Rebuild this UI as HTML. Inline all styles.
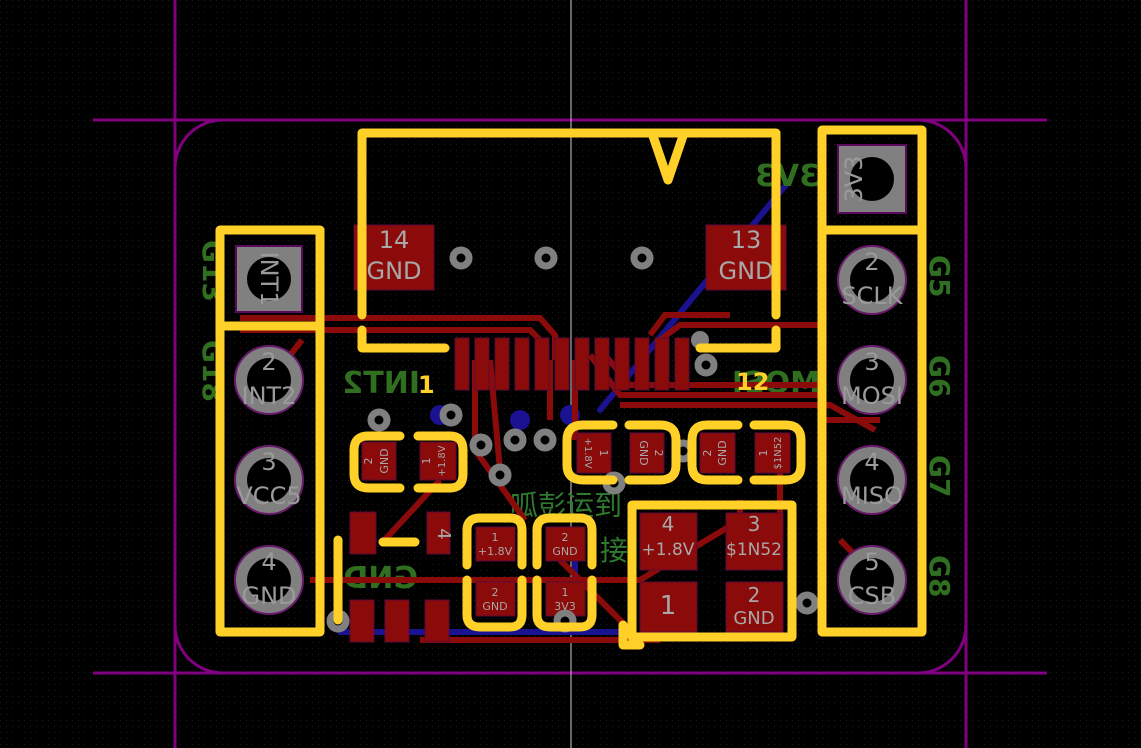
<!DOCTYPE html>
<html><head><style>
html,body{margin:0;padding:0;background:#000;}
svg{display:block;}
text{font-family:"DejaVu Sans","Liberation Sans",sans-serif;}
</style></head><body>
<svg width="1141" height="748" viewBox="0 0 1141 748" xmlns="http://www.w3.org/2000/svg">
<defs>
<pattern id="g" width="6" height="6" patternUnits="userSpaceOnUse"><rect x="0" y="0" width="1" height="1" fill="#1c1c1c"/></pattern>
</defs>
<rect width="1141" height="748" fill="#000"/>
<rect width="1141" height="748" fill="url(#g)"/>
<!-- dimension lines -->
<g stroke="#800080" stroke-width="3" fill="none">
<line x1="93" y1="120" x2="1047" y2="120"/>
<line x1="93" y1="673" x2="1047" y2="673"/>
<line x1="175" y1="0" x2="175" y2="748"/>
<line x1="966" y1="0" x2="966" y2="748"/>
<rect x="175" y="120" width="791" height="553" rx="48"/>
</g>
<line x1="571" y1="0" x2="571" y2="748" stroke="#ccc" stroke-width="1"/>

<!-- blue traces -->
<g stroke="#1a1290" stroke-width="6" fill="none" stroke-linecap="round">
<line x1="790" y1="180" x2="600" y2="410"/>
<line x1="340" y1="632" x2="630" y2="632"/>
<line x1="575" y1="530" x2="575" y2="600"/>
</g>
<g fill="#1a1290"><circle cx="440" cy="415" r="10"/><circle cx="520" cy="420" r="10"/><circle cx="570" cy="415" r="10"/></g>

<!-- silkscreen green (mirrored-ish) -->
<g fill="#2f6f1f" font-weight="bold" font-family="'DejaVu Sans',sans-serif">
<text x="0" y="0" font-size="30" transform="translate(820,186) scale(-1,1)">3V3</text>
<text x="0" y="0" font-size="30" transform="translate(420,393) scale(-1,1)">INT2</text>
<text x="0" y="0" font-size="30" transform="translate(820,393) scale(-1,1)">MOSI</text>
<text x="0" y="0" font-size="30" transform="translate(418,588) scale(-1,1)">GND</text>
<text x="0" y="0" font-size="28" transform="translate(203,240) rotate(90)">G13</text>
<text x="0" y="0" font-size="28" transform="translate(203,340) rotate(90)">G18</text>
<text x="0" y="0" font-size="28" transform="translate(930,255) rotate(90)">G5</text>
<text x="0" y="0" font-size="28" transform="translate(930,355) rotate(90)">G6</text>
<text x="0" y="0" font-size="28" transform="translate(930,455) rotate(90)">G7</text>
<text x="0" y="0" font-size="28" transform="translate(930,555) rotate(90)">G8</text>
</g>
<g fill="#2f7a2f" font-size="28" font-family="'Noto Sans CJK SC',sans-serif"><text x="510" y="515">呱彭运到</text><text x="600" y="560">接</text></g>

<!-- red traces -->
<g stroke="#8b0a0a" stroke-width="6" fill="none">
<polyline points="240,318 540,318 555,335 555,360"/>
<polyline points="240,330 530,330 540,340"/>
<polyline points="302,340 270,380"/>
<polyline points="590,355 620,395 820,395"/>
<polyline points="605,355 630,385 820,385"/>
<polyline points="650,335 665,315 730,315"/>
<polyline points="660,340 680,325 820,325"/>
<polyline points="620,405 830,405 875,430"/>
<polyline points="475,360 475,450 525,520"/>
<polyline points="490,360 500,470"/>
<polyline points="550,360 550,420"/>
<polyline points="575,360 575,410 575,440"/>
<polyline points="310,580 640,580 740,520"/>
<polyline points="380,545 440,480"/>
<polyline points="560,560 640,640 650,640"/>
<polyline points="740,500 740,560"/>
<polyline points="780,440 780,520"/>
<polyline points="880,420 820,420"/>
<polyline points="840,540 880,580"/>
<polyline points="420,640 660,640"/>
</g>

<!-- fine pitch pads -->
<g fill="#8b0a0a" stroke="#5a0a3a" stroke-width="1">
<rect x="455" y="338" width="14" height="52"/><rect x="475" y="338" width="14" height="52"/><rect x="495" y="338" width="14" height="52"/><rect x="515" y="338" width="14" height="52"/><rect x="535" y="338" width="14" height="52"/><rect x="555" y="338" width="14" height="52"/><rect x="575" y="338" width="14" height="52"/><rect x="595" y="338" width="14" height="52"/><rect x="615" y="338" width="14" height="52"/><rect x="635" y="338" width="14" height="52"/><rect x="655" y="338" width="14" height="52"/><rect x="675" y="338" width="14" height="52"/>
<rect x="354" y="225" width="80" height="65"/><rect x="706" y="225" width="80" height="65"/>
<rect x="362" y="442" width="34" height="38"/><rect x="420" y="442" width="36" height="38"/>
<rect x="577" y="433" width="34" height="40"/><rect x="630" y="433" width="34" height="40"/>
<rect x="700" y="433" width="35" height="40"/><rect x="755" y="433" width="35" height="40"/>
<rect x="476" y="527" width="39" height="34"/><rect x="476" y="582" width="39" height="34"/>
<rect x="546" y="527" width="39" height="34"/><rect x="546" y="582" width="39" height="34"/>
<rect x="640" y="513" width="57" height="57"/><rect x="726" y="513" width="57" height="57"/>
<rect x="640" y="582" width="57" height="50"/><rect x="726" y="582" width="57" height="50"/>
<rect x="350" y="512" width="26" height="42"/><rect x="427" y="512" width="23" height="42"/>
<rect x="350" y="600" width="24" height="42"/><rect x="385" y="600" width="24" height="42"/><rect x="425" y="600" width="24" height="42"/>
</g>
<g fill="#a8a8a8" font-family="'DejaVu Sans',sans-serif" text-anchor="middle">
<text x="394" y="248" font-size="24">14</text><text x="394" y="279" font-size="24">GND</text>
<text x="746" y="248" font-size="24">13</text><text x="746" y="279" font-size="24">GND</text>
<text x="668" y="531" font-size="20">4</text><text x="668" y="555" font-size="17">+1.8V</text>
<text x="754" y="531" font-size="20">3</text><text x="754" y="555" font-size="17">$1N52</text>
<text x="668" y="614" font-size="26">1</text>
<text x="754" y="602" font-size="20">2</text><text x="754" y="624" font-size="18">GND</text>
<text x="495" y="541" font-size="11">1</text><text x="495" y="555" font-size="11">+1.8V</text>
<text x="495" y="596" font-size="11">2</text><text x="495" y="610" font-size="11">GND</text>
<text x="565" y="541" font-size="11">2</text><text x="565" y="555" font-size="11">GND</text>
<text x="565" y="596" font-size="11">1</text><text x="565" y="610" font-size="11">3V3</text>
<text x="0" y="0" font-size="18" transform="translate(438,534) rotate(90)">4</text>
<text x="0" y="0" font-size="11" transform="translate(372,461) rotate(-90)">2</text>
<text x="0" y="0" font-size="11" transform="translate(388,461) rotate(-90)">GND</text>
<text x="0" y="0" font-size="11" transform="translate(430,461) rotate(-90)">1</text>
<text x="0" y="0" font-size="10" transform="translate(445,461) rotate(-90)">+1.8V</text>
<text x="0" y="0" font-size="11" transform="translate(600,453) rotate(90)">1</text>
<text x="0" y="0" font-size="10" transform="translate(585,453) rotate(90)">+1.8V</text>
<text x="0" y="0" font-size="11" transform="translate(655,453) rotate(90)">2</text>
<text x="0" y="0" font-size="11" transform="translate(640,453) rotate(90)">GND</text>
<text x="0" y="0" font-size="11" transform="translate(711,453) rotate(-90)">2</text>
<text x="0" y="0" font-size="11" transform="translate(726,453) rotate(-90)">GND</text>
<text x="0" y="0" font-size="11" transform="translate(767,453) rotate(-90)">1</text>
<text x="0" y="0" font-size="10" transform="translate(781,453) rotate(-90)">$1N52</text>
</g>

<!-- headers -->
<g>
<rect x="236" y="246" width="66" height="66" fill="#808080" stroke="#5a0a5a" stroke-width="2"/>
<circle cx="269" cy="279" r="22" fill="#000"/>
<rect x="838" y="145" width="68" height="68" fill="#808080" stroke="#5a0a5a" stroke-width="2"/>
<circle cx="872" cy="179" r="22" fill="#000"/>
<g fill="#808080" stroke="#6a1a6a" stroke-width="2">
<circle cx="269" cy="380" r="34"/><circle cx="269" cy="480" r="34"/><circle cx="269" cy="580" r="34"/>
<circle cx="872" cy="280" r="34"/><circle cx="872" cy="380" r="34"/><circle cx="872" cy="480" r="34"/><circle cx="872" cy="580" r="34"/>
</g>
<g fill="#000"><circle cx="269" cy="380" r="22"/><circle cx="269" cy="480" r="22"/><circle cx="269" cy="580" r="22"/><circle cx="872" cy="280" r="22"/><circle cx="872" cy="380" r="22"/><circle cx="872" cy="480" r="22"/><circle cx="872" cy="580" r="22"/></g>
<g fill="#9a9a9a" font-family="'DejaVu Sans',sans-serif" font-size="24" text-anchor="middle">
<text x="269" y="370">2</text><text x="269" y="404">INT2</text>
<text x="269" y="470">3</text><text x="269" y="504">VCC5</text>
<text x="269" y="570">4</text><text x="269" y="604">GND</text>
<text x="872" y="270">2</text><text x="872" y="304">SCLK</text>
<text x="872" y="370">3</text><text x="872" y="404">MOSI</text>
<text x="872" y="470">4</text><text x="872" y="504">MISO</text>
<text x="872" y="570">5</text><text x="872" y="604">CSB</text>
<text x="0" y="0" transform="translate(261,279) rotate(90)">INT1</text>
<text x="0" y="0" transform="translate(862,179) rotate(-90)">3V3</text>
</g>
</g>

<!-- vias -->
<g fill="#000" stroke="#808080" stroke-width="7">
<circle cx="461" cy="258" r="8"/><circle cx="546" cy="258" r="8"/><circle cx="642" cy="258" r="8"/>
<circle cx="379" cy="420" r="8"/><circle cx="451" cy="415" r="8"/><circle cx="481" cy="445" r="8"/><circle cx="515" cy="440" r="8"/><circle cx="545" cy="440" r="8"/><circle cx="500" cy="475" r="8"/><circle cx="614" cy="483" r="8"/><circle cx="683" cy="451" r="8"/><circle cx="706" cy="365" r="8"/><circle cx="338" cy="621" r="8"/><circle cx="565" cy="621" r="8"/><circle cx="807" cy="603" r="8"/>
</g>
<circle cx="700" cy="340" r="9" fill="#808080"/>

<!-- yellow silkscreen -->
<g stroke="#ffd028" stroke-width="9" fill="none" stroke-linecap="round" stroke-linejoin="round">
<rect x="220" y="230" width="100" height="402"/><line x1="220" y1="326" x2="320" y2="326"/>
<rect x="822" y="130" width="100" height="502"/><line x1="822" y1="230" x2="922" y2="230"/>
<polyline points="362,315 362,133 776,133 776,315"/>
<polyline points="652,133 668,180 684,133"/>
<polyline points="362,330 362,348 445,348"/>
<polyline points="776,330 776,348 700,348"/>
<rect x="632" y="505" width="160" height="132"/>
<polyline points="623,625 623,645 640,645"/>
<line x1="338" y1="540" x2="338" y2="620"/>
<line x1="383" y1="542" x2="415" y2="542"/>
<path d="M400,436 H368 Q354,436 354,450 V474 Q354,488 368,488 H400"/>
<path d="M418,436 H450 Q463,436 463,450 V474 Q463,488 450,488 H418"/>
<path d="M613,425 H583 Q567,425 567,440 V465 Q567,480 583,480 H613"/>
<path d="M629,425 H660 Q676,425 676,440 V465 Q676,480 660,480 H629"/>
<path d="M738,425 H707 Q692,425 692,440 V465 Q692,480 707,480 H738"/>
<path d="M754,425 H786 Q801,425 801,440 V465 Q801,480 786,480 H754"/>
<path d="M467,565 V530 Q467,518 480,518 H510 Q522,518 522,530 V565"/>
<path d="M467,580 V615 Q467,627 480,627 H510 Q522,627 522,615 V580"/>
<path d="M537,565 V530 Q537,518 550,518 H580 Q592,518 592,530 V565"/>
<path d="M537,580 V615 Q537,627 550,627 H580 Q592,627 592,615 V580"/>
</g>
<g fill="#ffd028" font-family="'DejaVu Sans',sans-serif" font-weight="bold" font-size="24">
<text x="418" y="393">1</text><text x="736" y="390">12</text>
</g>
</svg>
</body></html>
